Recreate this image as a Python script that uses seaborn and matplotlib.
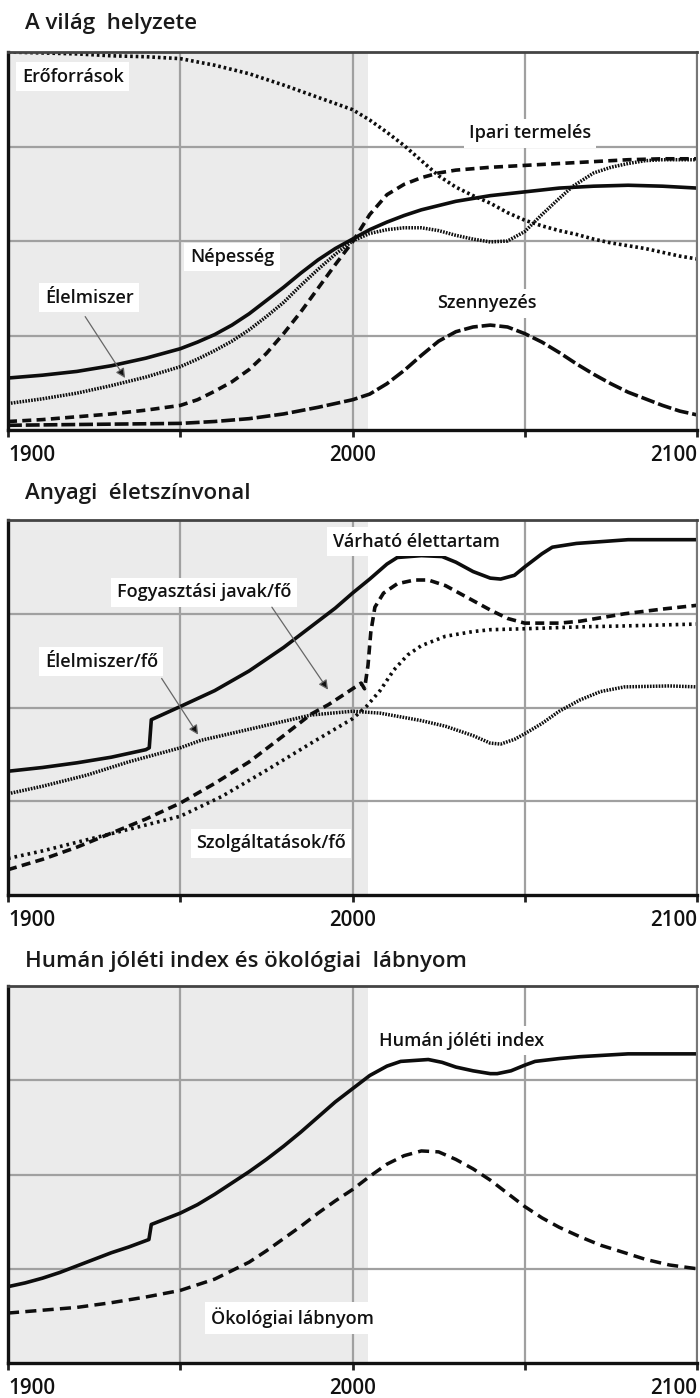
import matplotlib
matplotlib.use("Agg")
import matplotlib.pyplot as plt
import seaborn as sns

# ---------------- Panel 1: A világ helyzete ----------------
eroforras_ev = [1900, 1910, 1920, 1930, 1940, 1950, 1960, 1970, 1980, 1990, 2000, 2005, 2010, 2015, 2020,
                2025, 2030, 2035, 2040, 2045, 2050, 2055, 2060, 2065, 2070, 2075, 2080, 2085, 2090, 2095, 2100]
eroforras = [4.00, 3.99, 3.98, 3.96, 3.95, 3.93, 3.86, 3.77, 3.65, 3.52, 3.39, 3.28, 3.15, 3.01, 2.85,
             2.69, 2.57, 2.48, 2.40, 2.30, 2.22, 2.16, 2.11, 2.07, 2.02, 1.98, 1.95, 1.92, 1.88, 1.84, 1.81]

ipari_ev = [1900, 1910, 1920, 1930, 1940, 1950, 1955, 1960, 1965, 1970, 1975, 1980, 1985, 1990, 1995, 2000,
            2005, 2010, 2015, 2020, 2025, 2030, 2040, 2050, 2060, 2070, 2080, 2090, 2100]
ipari = [0.09, 0.11, 0.14, 0.17, 0.21, 0.26, 0.32, 0.41, 0.51, 0.64, 0.81, 1.02, 1.25, 1.50, 1.75, 1.99,
         2.28, 2.49, 2.60, 2.67, 2.72, 2.75, 2.78, 2.80, 2.82, 2.84, 2.86, 2.87, 2.87]

nepesseg_ev = [1900, 1910, 1920, 1930, 1940, 1950, 1955, 1960, 1965, 1970, 1975, 1980, 1985, 1990, 1995, 2000,
               2005, 2010, 2015, 2020, 2030, 2040, 2050, 2060, 2070, 2080, 2090, 2100]
nepesseg = [0.55, 0.58, 0.62, 0.68, 0.76, 0.86, 0.93, 1.01, 1.11, 1.23, 1.37, 1.51, 1.66, 1.80, 1.92, 2.02,
            2.12, 2.20, 2.27, 2.33, 2.42, 2.48, 2.52, 2.56, 2.58, 2.59, 2.58, 2.56]

elelmiszer_ev = [1900, 1910, 1920, 1930, 1940, 1950, 1955, 1960, 1965, 1970, 1975, 1980, 1985, 1990, 1995, 2000,
                 2005, 2010, 2015, 2020, 2025, 2030, 2035, 2040, 2045, 2050, 2055, 2060, 2064, 2070, 2075, 2080,
                 2085, 2090, 2100]
elelmiszer = [0.28, 0.33, 0.39, 0.47, 0.56, 0.67, 0.75, 0.84, 0.94, 1.06, 1.20, 1.35, 1.53, 1.70, 1.86, 2.00,
              2.08, 2.12, 2.14, 2.14, 2.11, 2.06, 2.02, 1.99, 2.00, 2.10, 2.28, 2.45, 2.58, 2.72, 2.78, 2.82,
              2.85, 2.86, 2.86]

szennyezes_ev = [1900, 1925, 1950, 1960, 1970, 1980, 1990, 1995, 2000, 2005, 2010, 2015, 2020, 2025, 2030, 2035,
                 2040, 2045, 2050, 2055, 2060, 2065, 2070, 2075, 2080, 2085, 2090, 2095, 2100]
szennyezes = [0.05, 0.06, 0.07, 0.09, 0.12, 0.17, 0.24, 0.28, 0.32, 0.38, 0.49, 0.63, 0.79, 0.94, 1.04, 1.09,
              1.11, 1.09, 1.02, 0.93, 0.82, 0.70, 0.59, 0.49, 0.40, 0.33, 0.26, 0.20, 0.16]

# ---------------- Panel 2: Anyagi életszínvonal ----------------
elettartam_ev = [1900, 1910, 1920, 1930, 1940, 1941.0, 1941.6, 1950, 1960, 1970, 1980, 1990, 1995, 2000, 2005,
                 2010, 2013, 2020, 2026, 2030, 2035, 2040, 2043, 2047, 2050, 2055, 2058, 2065, 2080, 2100]
elettartam = [1.32, 1.36, 1.41, 1.47, 1.55, 1.57, 1.87, 2.01, 2.18, 2.39, 2.64, 2.92, 3.06, 3.22, 3.37,
              3.53, 3.60, 3.62, 3.61, 3.55, 3.45, 3.38, 3.37, 3.41, 3.50, 3.64, 3.71, 3.75, 3.79, 3.79]

fogyasztas_ev = [1900, 1910, 1920, 1930, 1940, 1950, 1960, 1970, 1980, 1988, 1993, 1998, 2002.5, 2003.5, 2004.5,
                 2005.3, 2006.5, 2009, 2013, 2018, 2022, 2027, 2035, 2040, 2045, 2050, 2060, 2066, 2079, 2090, 2100]
fogyasztas = [0.27, 0.38, 0.51, 0.66, 0.81, 0.98, 1.19, 1.42, 1.70, 1.93, 2.03, 2.15, 2.26, 2.20, 2.45,
              2.80, 3.07, 3.22, 3.32, 3.36, 3.36, 3.30, 3.14, 3.04, 2.95, 2.90, 2.90, 2.92, 3.00, 3.05, 3.09]

szolgaltatas_ev = [1900, 1910, 1923, 1935, 1950, 1962, 1975, 1988, 2000, 2004, 2008, 2012, 2016, 2020, 2027,
                   2035, 2040, 2050, 2066, 2079, 2100]
szolgaltatas = [0.39, 0.47, 0.59, 0.70, 0.84, 1.05, 1.33, 1.62, 1.88, 2.01, 2.18, 2.40, 2.56, 2.66, 2.76,
                2.81, 2.83, 2.84, 2.86, 2.87, 2.89]

elelmiszer_fo_ev = [1900, 1910, 1923, 1935, 1950, 1956, 1962, 1975, 1988, 2000, 2008, 2014, 2020, 2027, 2035,
                    2040, 2043, 2047, 2050, 2055, 2060, 2066, 2072, 2079, 2092, 2100]
elelmiszer_fo = [1.08, 1.16, 1.28, 1.42, 1.57, 1.65, 1.70, 1.81, 1.92, 1.96, 1.94, 1.90, 1.86, 1.80, 1.70,
                 1.62, 1.61, 1.66, 1.72, 1.83, 1.96, 2.08, 2.17, 2.22, 2.23, 2.22]

# ---------------- Panel 3: Humán jóléti index és ökológiai lábnyom ----------------
hji_ev = [1900, 1905, 1910, 1915, 1920, 1925, 1930, 1935, 1940.9, 1941.6, 1950, 1955, 1960, 1965, 1970, 1975,
          1980, 1985, 1990, 1995, 2000, 2005, 2010, 2014, 2018, 2022, 2026, 2030, 2035, 2040, 2042, 2046,
          2050, 2053, 2060, 2066, 2080, 2100]
hji = [0.81, 0.85, 0.90, 0.96, 1.03, 1.10, 1.17, 1.23, 1.31, 1.47, 1.59, 1.68, 1.79, 1.91, 2.03, 2.16,
       2.30, 2.45, 2.61, 2.77, 2.91, 3.05, 3.15, 3.20, 3.21, 3.22, 3.19, 3.14, 3.10, 3.07, 3.07, 3.10,
       3.16, 3.20, 3.23, 3.25, 3.28, 3.28]

labnyom_ev = [1900, 1910, 1920, 1930, 1940, 1950, 1960, 1970, 1975, 1980, 1985, 1990, 1995, 2000, 2005, 2010,
              2015, 2020, 2025, 2030, 2035, 2040, 2045, 2050, 2055, 2060, 2066, 2072, 2079, 2085, 2092, 2100]
labnyom = [0.53, 0.56, 0.59, 0.64, 0.70, 0.77, 0.89, 1.07, 1.19, 1.32, 1.45, 1.59, 1.72, 1.84, 1.98, 2.11,
           2.20, 2.25, 2.24, 2.16, 2.06, 1.94, 1.80, 1.66, 1.54, 1.44, 1.34, 1.25, 1.17, 1.10, 1.04, 1.00]

tick_years = [1900, 1950, 2000, 2050, 2100]
tick_labels = ["1900", "", "2000", "", "2100"]
titles = ["A világ  helyzete", "Anyagi  életszínvonal", "Humán jóléti index és ökológiai  lábnyom"]

# ---------------- styling ----------------
sns.set_theme(style="white")
plt.rcParams["font.family"] = ["Open Sans", "DejaVu Sans"]
plt.rcParams["lines.scale_dashes"] = False

SOLID = dict(linestyle="-", lw=2.6)
DASH = dict(linestyle=(0, (6.5, 3.8)), lw=2.6)
LONGDASH = dict(linestyle=(0, (10, 2.8)), lw=2.6)
FOOTDASH = dict(linestyle=(0, (8, 4.5)), lw=2.5)
DOT = dict(linestyle=(0, (1.9, 2.1)), lw=2.6)
FINEDOT = dict(linestyle=(0, (1.2, 0.9)), lw=2.5)
SPARSEDOT = dict(linestyle=(0, (1.9, 2.9)), lw=2.6)

W, H = 700, 1398
fig = plt.figure(figsize=(W / 100, H / 100), dpi=100)

panel_px = [(52, 430), (520, 895), (986, 1363)]
title_px = [24, 494, 962]
FS = 13

axes = []
for (top, bot), ty, title in zip(panel_px, title_px, titles):
    ax = fig.add_axes([8 / W, 1 - bot / H, 689 / W, (bot - top) / H])
    ax.set_xlim(1900, 2100)
    ax.set_ylim(0, 4)
    ax.axvspan(1900, 2004.5, color="#ebebeb", zorder=0, lw=0)
    ax.set_yticks([1, 2, 3])
    ax.set_yticklabels([])
    ax.set_xticks(tick_years)
    ax.set_xticklabels(tick_labels, fontsize=14.8, fontweight="semibold", color="#111")
    ax.tick_params(axis="y", length=0)
    ax.tick_params(axis="x", length=5, width=2, color="#222", pad=5.5, direction="out", bottom=True)
    ax.grid(True, color="#a0a0a0", lw=1.6)
    ax.set_axisbelow(True)
    for sp in ["left", "bottom"]:
        ax.spines[sp].set_color("#111")
        ax.spines[sp].set_linewidth(2.4)
    ax.spines["top"].set_color("#444")
    ax.spines["top"].set_linewidth(2.0)
    ax.spines["right"].set_color("#777")
    ax.spines["right"].set_linewidth(1.5)
    lbls = ax.get_xticklabels()
    lbls[0].set_ha("left")
    lbls[-1].set_ha("right")
    fig.text(25 / W, 1 - ty / H, title, fontsize=16, fontweight="semibold", va="center", ha="left",
             color="#1a1a1a")
    axes.append(ax)


def draw(ax, x, y, style):
    sns.lineplot(x=x, y=y, ax=ax, color="#0d0d0d", estimator=None, errorbar=None,
                 solid_capstyle="butt", dash_capstyle="butt", solid_joinstyle="round", zorder=2, **style)


def label(ax, x, y, text):
    ax.text(x, y, text, fontsize=FS, fontweight="semibold", color="#111", ha="left", va="center",
            zorder=4, bbox=dict(boxstyle="square,pad=0.3", fc="white", ec="none"))


def arrow(ax, start, tip):
    ax.annotate("", xy=tip, xytext=start, zorder=5,
                arrowprops=dict(arrowstyle="-|>", ec="#666", fc="#111", lw=0.9,
                                mutation_scale=14, shrinkA=0, shrinkB=0))


# Panel 1
ax = axes[0]
draw(ax, eroforras_ev, eroforras, DOT)
draw(ax, ipari_ev, ipari, DASH)
draw(ax, nepesseg_ev, nepesseg, SOLID)
draw(ax, elelmiszer_ev, elelmiszer, FINEDOT)
draw(ax, szennyezes_ev, szennyezes, LONGDASH)
label(ax, 1904, 3.74, "Erőforrások")
label(ax, 2033.8, 3.14, "Ipari termelés")
label(ax, 1952.8, 1.83, "Népesség")
label(ax, 1910.7, 1.40, "Élelmiszer")
label(ax, 2024.5, 1.34, "Szennyezés")
arrow(ax, (1922.4, 1.20), (1934, 0.55))

# Panel 2
ax = axes[1]
draw(ax, elettartam_ev, elettartam, SOLID)
draw(ax, fogyasztas_ev, fogyasztas, DASH)
draw(ax, szolgaltatas_ev, szolgaltatas, SPARSEDOT)
draw(ax, elelmiszer_fo_ev, elelmiszer_fo, FINEDOT)
label(ax, 1994.3, 3.77, "Várható élettartam")
label(ax, 1931.6, 3.23, "Fogyasztási javak/fő")
label(ax, 1910.7, 2.49, "Élelmiszer/fő")
label(ax, 1954.6, 0.55, "Szolgáltatások/fő")
arrow(ax, (1976.6, 3.07), (1992.9, 2.19))
arrow(ax, (1944.6, 2.31), (1955.2, 1.71))

# Panel 3
ax = axes[2]
draw(ax, hji_ev, hji, SOLID)
draw(ax, labnyom_ev, labnyom, FOOTDASH)
label(ax, 2007.6, 3.42, "Humán jóléti index")
label(ax, 1958.8, 0.48, "Ökológiai lábnyom")

fig.savefig("out.png", dpi=100)
